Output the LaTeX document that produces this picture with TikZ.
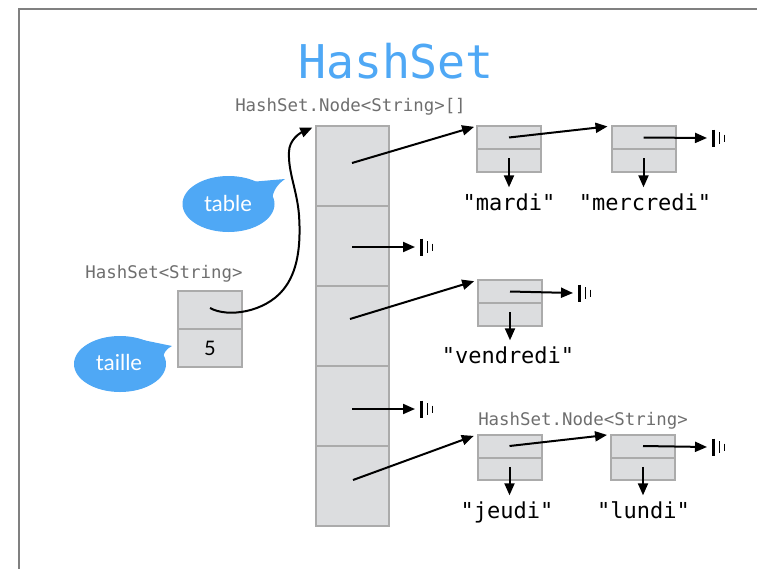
\documentclass[tikz,border=0pt]{standalone}
\usepackage{fontspec}
\setmonofont{DejaVu Sans Mono}
\newfontfamily\callfont{Lato}
\usetikzlibrary{arrows.meta}
\definecolor{boxfill}{HTML}{DCDDDF}
\definecolor{boxline}{HTML}{ABABAB}
\definecolor{hsblue}{HTML}{4FA8F5}
\definecolor{labgray}{HTML}{6E6E6E}
\definecolor{framegray}{HTML}{808080}
\tikzset{
  cell/.style={draw=boxline, fill=boxfill, line width=2pt, inner sep=0pt, outer sep=0pt, minimum width=64pt},
  halfT/.style={cell, minimum height=23pt},
  halfB/.style={cell, minimum height=22.5pt},
  ptr/.style={draw=black, line width=2pt, -{Triangle[length=12pt,width=10pt]}},
  strlab/.style={font=\ttfamily\fontsize{22}{24}\selectfont, inner sep=0pt, text height=16.5pt, text depth=0pt, anchor=base},
  typelab/.style={font=\ttfamily\fontsize{17.4}{20}\selectfont, text=labgray, inner sep=0pt, anchor=base},
  calltext/.style={font=\callfont\fontsize{22}{24}\selectfont, text=white, inner sep=0pt, anchor=base},
  nullbars/.pic={\draw[line width=2.2pt, line cap=butt] (6.5,-8.5)--(6.5,8.5); \draw[line width=1.9pt, line cap=butt] (12.5,-6)--(12.5,6) (17.5,-3.5)--(17.5,3.5);}
}
\begin{document}
\begin{tikzpicture}[x=1pt,y=-1pt]
\useasboundingbox (0,0) rectangle (757,568);
% frame
\draw[framegray, line width=1.5pt] (19,570) -- (19,9) -- (760,9);
% title
\node[font=\ttfamily\fontsize{46.5}{50}\selectfont, text=hsblue, inner sep=0pt, anchor=base] (title) at (396,78) {HashSet};
% labels
\node[typelab] (arrlab) at (350.5,111) {HashSet.Node<String>[]};
\node[typelab] (hslab) at (164,278) {HashSet<String>};
\node[typelab] (nodelab) at (583,425.5) {HashSet.Node<String>};
% array
\node[cell, minimum width=73pt, minimum height=80pt] (c1) at (352.5,166) {};
\node[cell, minimum width=73pt, minimum height=80pt] (c2) at (352.5,246) {};
\node[cell, minimum width=73pt, minimum height=80pt] (c3) at (352.5,326) {};
\node[cell, minimum width=73pt, minimum height=80pt] (c4) at (352.5,406) {};
\node[cell, minimum width=73pt, minimum height=80pt] (c5) at (352.5,486) {};
\coordinate (p1) at (352,163);
\coordinate (p2) at (352,247);
\coordinate (p3) at (350,319);
\coordinate (p4) at (352,409);
\coordinate (p5) at (353,480);
% HashSet object
\node[cell, minimum height=38pt] (hsT) at (210,310) {};
\node[cell, minimum height=38pt, anchor=north] (hsB) at (hsT.south) {};
\node[font=\callfont\fontsize{20}{22}\selectfont, inner sep=0pt, anchor=base] (five) at (210,355) {5};
\coordinate (hsp) at (210,308);
% linked nodes
\node[halfT] (mardiT) at (509,137.5) {};
\node[halfB, anchor=north] (mardiB) at (mardiT.south) {};
\node[halfT] (mercT) at (643.5,137.5) {};
\node[halfB, anchor=north] (mercB) at (mercT.south) {};
\node[halfT] (vendT) at (510,291.5) {};
\node[halfB, anchor=north] (vendB) at (vendT.south) {};
\node[halfT] (jeudiT) at (509.5,446) {};
\node[halfB, anchor=north] (jeudiB) at (jeudiT.south) {};
\node[halfT] (lundiT) at (643,446) {};
\node[halfB, anchor=north] (lundiB) at (lundiT.south) {};
% strings
\node[strlab] (smardi) at (509,210) {"mardi"};
\node[strlab] (smerc) at (645,210) {"mercredi"};
\node[strlab] (svend) at (508,363) {"vendredi"};
\node[strlab] (sjeudi) at (507,518) {"jeudi"};
\node[strlab] (slundi) at (643.5,518) {"lundi"};
% value arrows
\draw[ptr, shorten >=6pt] ([yshift=2pt]mardiB.center) -- (mardiB.center |- smardi.north);
\draw[ptr, shorten >=6pt] ([yshift=2pt]mercB.center) -- (mercB.center |- smerc.north);
\draw[ptr, shorten >=6pt] ([yshift=2pt]vendB.center) -- (vendB.center |- svend.north);
\draw[ptr, shorten >=6pt] ([yshift=2pt]jeudiB.center) -- (jeudiB.center |- sjeudi.north);
\draw[ptr, shorten >=6pt] ([yshift=2pt]lundiB.center) -- (lundiB.center |- slundi.north);
% array pointers
\draw[ptr, shorten >=3pt] (p1) -- (mardiT.north west);
\draw[ptr, shorten >=4pt] (p3) -- (vendT.north west);
\draw[ptr, shorten >=4pt] (p5) -- (jeudiT.north west);
\draw[ptr, shorten >=4pt] (mardiT.center) -- (mercT.north west);
\draw[ptr, shorten >=4pt] (jeudiT.center) -- (lundiT.north west);
% null pointers
\coordinate (n2) at (415,247);
\coordinate (n4) at (415,409);
\coordinate (nmerc) at (707,138);
\coordinate (nvend) at (573,293);
\coordinate (nlundi) at (707,447);
\draw[ptr] (p2) -- (n2); \pic at (n2) {nullbars};
\draw[ptr] (p4) -- (n4); \pic at (n4) {nullbars};
\draw[ptr] (mercT.center) -- (nmerc); \pic at (nmerc) {nullbars};
\draw[ptr] (vendT.center) -- (nvend); \pic at (nvend) {nullbars};
\draw[ptr] (lundiT.center) -- (nlundi); \pic at (nlundi) {nullbars};
% table reference curve
\draw[ptr, shorten >=4pt] (hsp) .. controls (228,318) and (265,312) .. (283,290)
  .. controls (298,272) and (301,245) .. (299,215)
  .. controls (297,190) and (288,172) .. (289,152)
  .. controls (289,140) and (300,133) .. (c1.north west);
% callouts
\fill[hsblue] (228.5,204) ellipse [x radius=46, y radius=28];
\fill[hsblue] (250,182) -- (285,179) .. controls (278,184) and (273,190) .. (272,200) -- cycle;
\node[calltext] (ctable) at (228,211) {table};
\fill[hsblue] (120,364) ellipse [x radius=46, y radius=28];
\fill[hsblue] (138,339) -- (172,346) .. controls (166,349) and (163,353) .. (162,362) -- cycle;
\node[calltext] (ctaille) at (119,370) {taille};
\end{tikzpicture}
\end{document}
